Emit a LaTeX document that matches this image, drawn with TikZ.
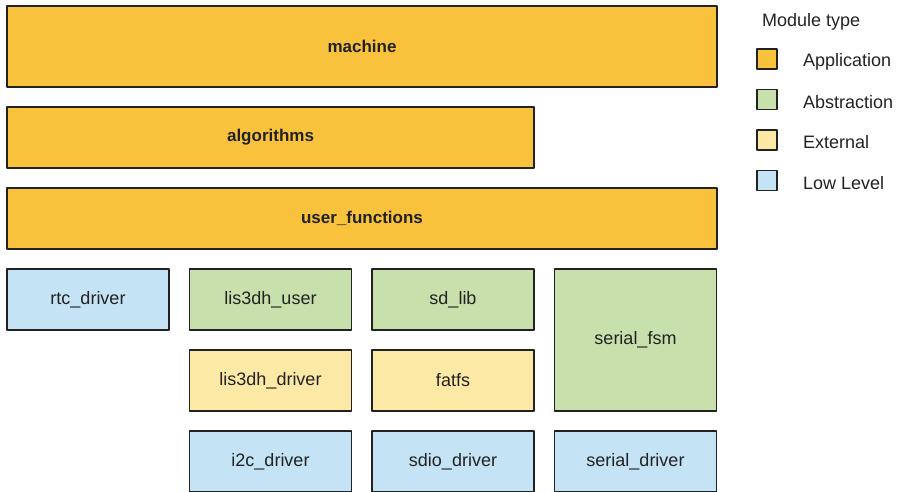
\documentclass[tikz,border=0pt]{standalone}
\usepackage{fontspec}
\setmainfont{Liberation Sans}
\definecolor{appcol}{HTML}{F9C23C}
\definecolor{abscol}{HTML}{C8E0AB}
\definecolor{extcol}{HTML}{FCE9A6}
\definecolor{lowcol}{HTML}{C4E3F5}
\definecolor{inkcol}{HTML}{222222}
\tikzset{
  module/.style={draw=inkcol, line width=1.8pt, minimum height=61pt, inner sep=0pt,
    text=inkcol, font=\fontsize{18}{21}\selectfont},
  app/.style={module, fill=appcol, font=\bfseries\fontsize{17}{20}\selectfont},
  abs/.style={module, fill=abscol},
  ext/.style={module, fill=extcol},
  low/.style={module, fill=lowcol},
  keybox/.style={draw=inkcol, line width=1.8pt, minimum size=20pt, inner sep=0pt},
  keytext/.style={anchor=west, inner sep=0pt, text=inkcol, font=\fontsize{18}{21}\selectfont}
}
\begin{document}
\begin{tikzpicture}[x=1pt,y=-1pt,line join=round]
        \useasboundingbox (0,0) rectangle (898,491);
        \def\wa{162} \def\ca{88} \def\cb{270.5} \def\cc{453} \def\cd{635.5}
        % application layers
        \node[app, minimum width=710pt, minimum height=81pt] (machine) at (362,46.5) {machine};
        \node[app, minimum width=527pt] (algorithms) at (270.5,137.5) {algorithms};
        \node[app, minimum width=710pt] (userfn) at (362,218.5) {user\_functions};
        % modules
        \node[low, minimum width=\wa pt] (rtc) at (\ca,299.5) {rtc\_driver};
        \node[abs, minimum width=\wa pt] (lisuser) at (\cb,299.5) {lis3dh\_user};
        \node[abs, minimum width=\wa pt] (sdlib) at (\cc,299.5) {sd\_lib};
        \node[abs, minimum width=\wa pt, minimum height=142pt] (serfsm) at (\cd,340) {serial\_fsm};
        \node[ext, minimum width=\wa pt] (lisdrv) at (\cb,380.5) {lis3dh\_driver};
        \node[ext, minimum width=\wa pt] (fatfs) at (\cc,380.5) {fatfs};
        \node[low, minimum width=\wa pt] (i2c) at (\cb,461.5) {i2c\_driver};
        \node[low, minimum width=\wa pt] (sdio) at (\cc,461.5) {sdio\_driver};
        \node[low, minimum width=\wa pt] (serdrv) at (\cd,461.5) {serial\_driver};
        % legend
        \node[keytext] (keytitle) at (762,21.5) {Module type};
        \foreach \col/\lab [count=\i] in {appcol/Application, abscol/Abstraction, extcol/External, lowcol/Low Level}
          \node[keybox, fill=\col] (key\i) at (767,18.5+40.5*\i) {}
            (803,21+40.5*\i) node[keytext] (keylab\i) {\lab};
\end{tikzpicture}
\end{document}
